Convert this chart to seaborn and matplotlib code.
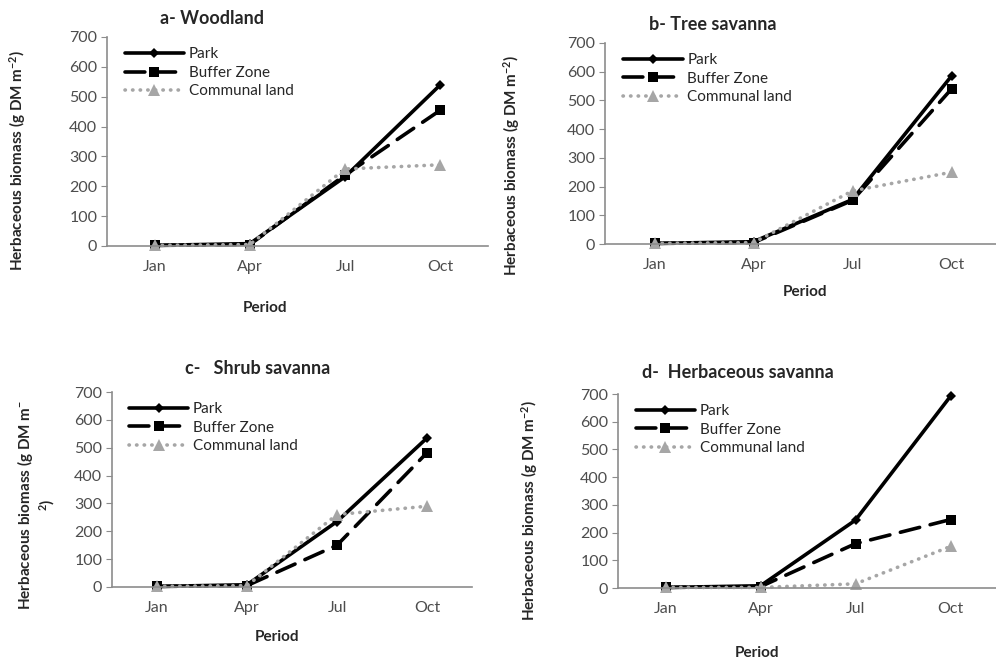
import pandas as pd
import matplotlib
matplotlib.use("Agg")
import matplotlib.pyplot as plt
import seaborn as sns

months = ["Jan", "Apr", "Jul", "Oct"]
zones = ["Park", "Buffer Zone", "Communal land"]

# valeurs (g DM m-2)
woodland_park = [2, 8, 232, 540]
woodland_buffer = [2, 5, 238, 455]
woodland_communal = [2, 5, 258, 272]

tree_park = [2, 8, 155, 585]
tree_buffer = [2, 5, 152, 540]
tree_communal = [2, 5, 185, 250]

shrub_park = [2, 8, 235, 535]
shrub_buffer = [2, 5, 150, 482]
shrub_communal = [2, 5, 260, 290]

herb_park = [2, 8, 245, 692]
herb_buffer = [2, 5, 160, 247]
herb_communal = [2, 2, 15, 150]

titles = ["a- Woodland", "b- Tree savanna", "c-   Shrub savanna", "d-  Herbaceous savanna"]
ylab = "Herbaceous biomass (g DM m$^{-2}$)"
ylab_c = "Herbaceous biomass (g DM m$^{-}$\n$^{2}$)"

sns.set_style("white")
plt.rcParams["font.family"] = ["Lato", "DejaVu Sans"]
plt.rcParams["mathtext.default"] = "regular"

W, H = 996, 664
fig = plt.figure(figsize=(W / 100, H / 100), dpi=100)


def box(l, t, r, b):
    return [l / W, 1 - b / H, (r - l) / W, (b - t) / H]


def make_df(park, buf, com):
    rows = []
    for name, vals in zip(zones, [park, buf, com]):
        for m, v in zip(months, vals):
            rows.append({"Month": m, "Zone": name, "Biomass": v})
    return pd.DataFrame(rows)


panels = [
    (make_df(woodland_park, woodland_buffer, woodland_communal), box(107, 37, 488, 246)),
    (make_df(tree_park, tree_buffer, tree_communal), box(605, 43, 1001, 244)),
    (make_df(shrub_park, shrub_buffer, shrub_communal), box(112, 392, 472, 587)),
    (make_df(herb_park, herb_buffer, herb_communal), box(618, 394, 998, 588)),
]

# positions en pixels : titre, "Period", label y
title_pos = [(212, 18), (713, 25), (258, 368), (738, 372)]
period_pos = [(265, 308), (805, 292), (277, 637), (757, 653)]
ylab_pos = [(18, 160), (512, 165), (36, 505), (530, 510)]

palette = {"Park": "black", "Buffer Zone": "black", "Communal land": "#a6a6a6"}
dashes = {"Park": "", "Buffer Zone": (5.5, 3), "Communal land": (0.1, 2.0)}
markers = {"Park": "D", "Buffer Zone": "s", "Communal land": "^"}


def fix_line(ln):
    ln.set_dash_capstyle("round")
    if ln.get_marker() == "D":
        ln.set_markersize(5)
    if ln.get_marker() == "^":
        ln.set_markersize(8)


for i, (df, rect) in enumerate(panels):
    ax = fig.add_axes(rect)
    sns.lineplot(data=df, x="Month", y="Biomass", hue="Zone", style="Zone",
                 palette=palette, dashes=dashes, markers=markers,
                 linewidth=2.6, markersize=7.5, markeredgewidth=0, ax=ax)
    for ln in ax.lines:
        fix_line(ln)
        ln.set_clip_on(False)
    ax.set_xlim(-0.5, 3.5)
    ax.set_ylim(0, 700)
    ax.set_yticks(range(0, 701, 100))
    ax.set_xlabel("")
    ax.set_ylabel("")
    sns.despine(ax=ax)
    for s in ["left", "bottom"]:
        ax.spines[s].set_color("#8c8c8c")
        ax.spines[s].set_linewidth(1.2)
    ax.tick_params(axis="y", length=4, color="#8c8c8c", labelsize=11.5,
                   labelcolor="#4d4d4d", pad=3, left=True)
    ax.tick_params(axis="x", length=0, labelsize=11.5, labelcolor="#4d4d4d", pad=10)

    h, l = ax.get_legend_handles_labels()
    leg = ax.legend(h, l, frameon=False, loc="upper left", bbox_to_anchor=(0.03, 0.98),
                    handlelength=3.9, handletextpad=0.3, labelspacing=0.3,
                    fontsize=11, borderaxespad=0)
    for ln in leg.get_lines():
        fix_line(ln)

    tx, ty = title_pos[i]
    fig.text(tx / W, 1 - ty / H, titles[i], ha="center", va="center",
             fontsize=13, fontweight="bold")
    px, py = period_pos[i]
    fig.text(px / W, 1 - py / H, "Period", ha="center", va="center",
             fontsize=11, fontweight="bold")
    yx, yy = ylab_pos[i]
    fig.text(yx / W, 1 - yy / H, ylab_c if i == 2 else ylab, rotation=90,
             ha="center", va="center", fontsize=11, fontweight="bold",
             multialignment="center")

fig.savefig("out.png", dpi=100)
